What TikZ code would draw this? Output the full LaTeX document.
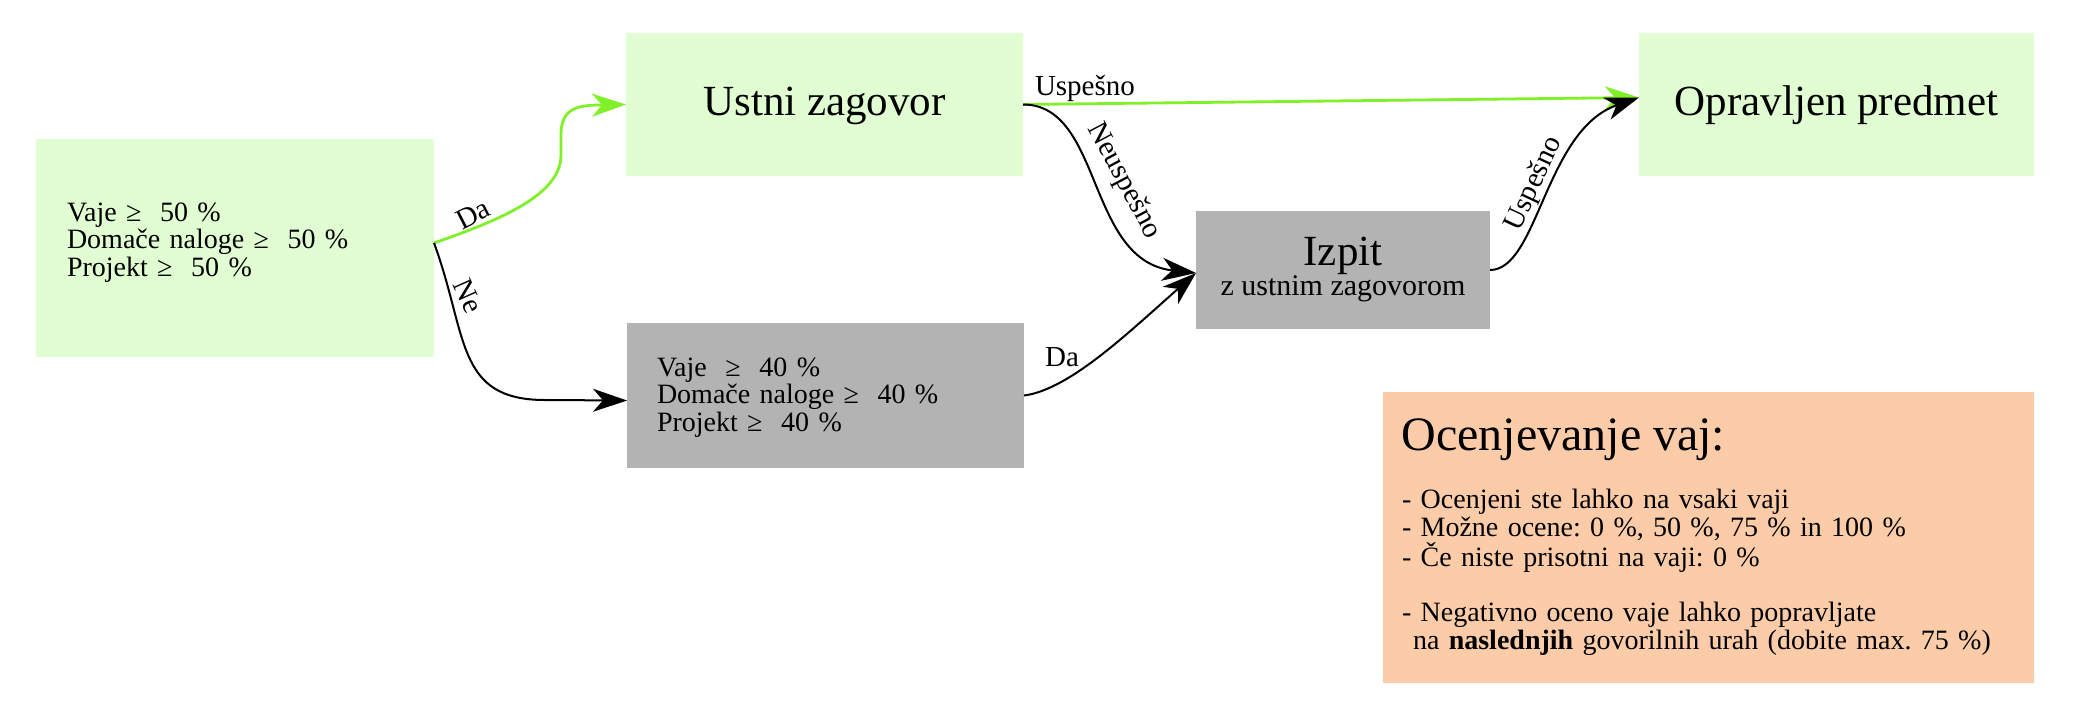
\documentclass[tikz,border=0pt]{standalone}
\usepackage{fontspec}
\setmainfont{Liberation Serif}
\usetikzlibrary{arrows.meta}
\definecolor{lgreen}{RGB}{225,253,210}
\definecolor{lgray}{RGB}{179,179,179}
\definecolor{lorange}{RGB}{252,204,168}
\definecolor{agreen}{RGB}{128,240,40}
\tikzset{
  box/.style={draw=none, inner sep=0pt, outer sep=0pt},
  gbox/.style={box, fill=lgreen},
  ybox/.style={box, fill=lgray},
  obox/.style={box, fill=lorange},
  small/.style={font=\fontsize{14}{13.75}\selectfont\frenchspacing, inner sep=0pt, outer sep=0pt},
  lbl/.style={font=\fontsize{14.5}{14}\selectfont, inner sep=0pt, outer sep=0pt},
  big/.style={font=\fontsize{21.5}{24}\selectfont, inner sep=0pt, outer sep=0pt},
  ptext/.style={small, anchor=base west, text width=300pt, align=left},
  blk/.style={draw=black, line width=1pt, -{Stealth[length=17pt,width=11.5pt,inset=5pt]}},
  grn/.style={draw=agreen, line width=1.4pt, -{Stealth[length=17pt,width=11.5pt,inset=5pt,fill=agreen]}},
}
\begin{document}
\begin{tikzpicture}[x=0.5pt,y=-0.5pt]
\path[use as bounding box] (0,0) rectangle (2096,723);
% boxes
\node[gbox, minimum width=199pt, minimum height=109pt] (b1) at (235,248) {};
\node[gbox, minimum width=198.5pt, minimum height=71.5pt] (b2) at (824.5,104.5) {};
\node[gbox, minimum width=197.5pt, minimum height=71.5pt] (b3) at (1836.5,104.5) {};
\node[ybox, minimum width=198.5pt, minimum height=72.5pt] (b4) at (825.5,395.5) {};
\node[ybox, minimum width=147pt, minimum height=59pt] (iz) at (1343,270) {};
\node[obox, minimum width=325.5pt, minimum height=145.5pt] (b6) at (1708.5,537.5) {};
% texts
\node[ptext] (t1) at (67,221) {Vaje ≥ \ 50 \%\\Domače naloge ≥ \ 50 \%\\Projekt ≥ \ 50 \%};
\node[ptext] (t4) at (657,376) {Vaje \ ≥ \ 40 \%\\Domače naloge ≥ \ 40 \%\\Projekt ≥ \ 40 \%};
\node[big, anchor=base] (t2) at (824.5,115) {Ustni zagovor};
\node[big, anchor=base] (t3) at (1836.5,115) {Opravljen predmet};
\node[big, anchor=base] (t5a) at (1343,265) {Izpit};
\node[font=\fontsize{15}{15}\selectfont, inner sep=0pt, anchor=base] (t5b) at (1343,295) {z ustnim zagovorom};
\node[font=\fontsize{24}{26}\selectfont, inner sep=0pt, anchor=base west] (t6) at (1401,450) {Ocenjevanje vaj:};
\node[ptext, font=\fontsize{14}{14}\selectfont\frenchspacing] (t7) at (1402,508) {- Ocenjeni ste lahko na vsaki vaji\\- Možne ocene: 0 \%, 50 \%, 75 \% in 100 \%\\- Če niste prisotni na vaji: 0 \%\\[13.5pt]- Negativno oceno vaje lahko popravljate\\\hspace*{5.5pt}na \textbf{naslednjih} govorilnih urah (dobite max. 75 \%)};
% connectors
\draw[grn] ([yshift=2.5pt]b1.east) .. controls (500,220) and (561,195) .. (561,155) -- (561,135) .. controls (561,112) and (572,105) .. (600,105) -- (b2.west);
\draw[blk] ([yshift=2.5pt]b1.east) .. controls (468,335) and (455,400) .. (545,400) -- ([yshift=-2.5pt]b4.west);
\draw[grn] (b2.east) -- ([yshift=3.5pt]b3.west);
\draw[blk] (b2.east) .. controls +(80,0) and +(-110,-12) .. ([yshift=-1.5pt]iz.west);
\draw[blk] (b4.east) .. controls +(46,-6) and +(-66,58) .. ([yshift=-1.5pt]iz.west);
\draw[blk] (iz.east) .. controls +(48,0) and +(-94,32.5) .. ([yshift=3.5pt]b3.west);
% labels
\node[lbl, rotate=27] (l1) at (473,214) {Da};
\node[lbl, rotate=-66] (l2) at (468,296) {Ne};
\node[lbl, anchor=base west] (l3) at (1035,95) {Uspešno};
\node[lbl, rotate=-62] (l4) at (1124,181) {Neuspešno};
\node[lbl] (l5) at (1062,357) {Da};
\node[lbl, rotate=65] (l6) at (1534,184) {Uspešno};
\end{tikzpicture}
\end{document}
